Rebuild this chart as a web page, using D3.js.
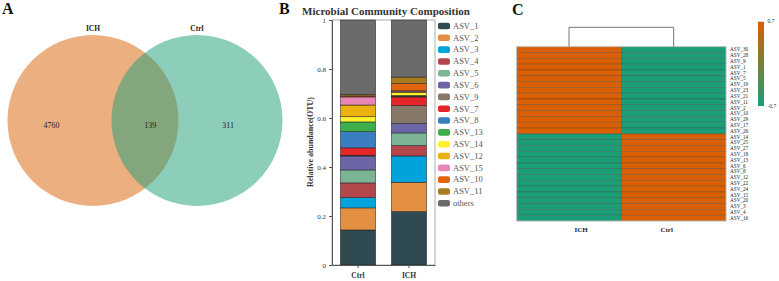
<!DOCTYPE html>
<html><head><meta charset="utf-8">
<script src="https://d3js.org/d3.v7.min.js"></script>
<style>body{margin:0;background:#fff}svg{display:block;font-family:"Liberation Serif","Times New Roman",serif}</style>
</head><body>
<svg id="fig" width="779" height="281"></svg>
<script>
// ---- data ----
const vennSets = ['ICH', 'Ctrl'];
const vennCounts = [4760, 139, 311];          // ICH only, shared, Ctrl only
const vennColors = ['#D95F02', '#1B9E77'];

const groups = ['Ctrl', 'ICH'];
const taxa = ['ASV_1','ASV_2','ASV_3','ASV_4','ASV_5','ASV_6','ASV_9','ASV_7',
              'ASV_8','ASV_13','ASV_14','ASV_12','ASV_15','ASV_10','ASV_11','others'];
const ctrlAbund = [0.143,0.090,0.042,0.060,0.053,0.057,0.003,0.030,
                   0.066,0.040,0.021,0.048,0.033,0.004,0.005,0.305];
const ichAbund  = [0.218,0.120,0.107,0.043,0.051,0.039,0.073,0.035,
                   0.003,0.003,0.012,0.004,0.003,0.029,0.027,0.233];
const taxaColors = ['#2F4A51','#E39042','#00A3DC','#B4474B','#7BB595','#6C66A6','#86796A','#E4262A',
                    '#3A7EC0','#3EAE4D','#FFF12E','#EBB10F','#EA86B5','#E2650E','#A97A1E','#6B6B6B'];
const yTicks = [0, 0.2, 0.4, 0.6, 0.8, 1];

const heatCols = ['ICH', 'Ctrl'];
const heatRows = ['ASV_30','ASV_28','ASV_9','ASV_1','ASV_7','ASV_5','ASV_19','ASV_23','ASV_21','ASV_11',
                  'ASV_2','ASV_10','ASV_29','ASV_17','ASV_26','ASV_14','ASV_25','ASV_27','ASV_18','ASV_13',
                  'ASV_6','ASV_8','ASV_12','ASV_22','ASV_24','ASV_15','ASV_20','ASV_3','ASV_4','ASV_16'];
const heatICH  = [0.7,0.7,0.7,0.7,0.7,0.7,0.7,0.7,0.7,0.7,0.7,0.7,0.7,0.7,0.7,
                  -0.7,-0.7,-0.7,-0.7,-0.7,-0.7,-0.7,-0.7,-0.7,-0.7,-0.7,-0.7,-0.7,-0.7,-0.7];
const heatCtrl = [-0.7,-0.7,-0.7,-0.7,-0.7,-0.7,-0.7,-0.7,-0.7,-0.7,-0.7,-0.7,-0.7,-0.7,-0.7,
                  0.7,0.7,0.7,0.7,0.7,0.7,0.7,0.7,0.7,0.7,0.7,0.7,0.7,0.7,0.7];
const colorTicks = [0.7, -0.7];

const svg = d3.select('#fig');
const letter = (t, x, y) => svg.append('text').attr('x', x).attr('y', y)
  .attr('font-size', 16).attr('font-weight', 'bold').attr('fill', '#111').text(t);

// ---- A: venn ----
letter('A', 2, 14);
const vx = d3.scaleLinear().domain([0, 1]).range([93, 197]);   // circle centres
const vr = 85.5, vcy = 120.5;
const gA = svg.append('g');
gA.selectAll('circle').data(vennSets).join('circle')
  .attr('cx', (d, i) => vx(i)).attr('cy', vcy).attr('r', vr)
  .attr('fill', (d, i) => vennColors[i]).attr('fill-opacity', 0.5);
gA.selectAll('text.set').data(vennSets).join('text').attr('class', 'set')
  .attr('x', (d, i) => vx(i)).attr('y', 31).attr('text-anchor', 'middle')
  .attr('font-size', 7.5).attr('font-weight', 'bold').attr('fill', '#222').text(d => d);
const countPos = [-0.4, 0.55, 1.3];
gA.selectAll('text.num').data(vennCounts).join('text').attr('class', 'num')
  .attr('x', (d, i) => vx(countPos[i])).attr('y', 128).attr('text-anchor', 'middle')
  .attr('font-size', 8).attr('fill', '#222').text(d => d);

// ---- B: stacked bars ----
letter('B', 279, 14);
svg.append('text').attr('x', 386).attr('y', 15).attr('text-anchor', 'middle')
  .attr('font-size', 11).attr('font-weight', 'bold').attr('fill', '#333')
  .text('Microbial Community Composition');
const bx = d3.scaleBand().domain(groups).range([332, 435]).paddingInner(0.31).paddingOuter(0.165);
const by = d3.scaleLinear().domain([0, 1]).range([265, 20]);
const abund = {Ctrl: ctrlAbund, ICH: ichAbund};
const rows = groups.map(g => { const o = {group: g}; taxa.forEach((t, i) => o[t] = abund[g][i]); return o; });
const stack = d3.stack().keys(taxa)(rows);
const gB = svg.append('g');
gB.append('rect').attr('x', 332).attr('y', 20).attr('width', 103).attr('height', 245)
  .attr('fill', 'none').attr('stroke', '#999').attr('stroke-width', 0.8);
gB.selectAll('g.layer').data(stack).join('g').attr('class', 'layer')
  .attr('fill', (d, i) => taxaColors[i])
  .selectAll('rect').data(d => d).join('rect')
  .attr('x', d => bx(d.data.group)).attr('width', bx.bandwidth())
  .attr('y', d => by(d[1])).attr('height', d => by(d[0]) - by(d[1]))
  .attr('stroke', '#1a1a1a').attr('stroke-width', 0.5);
const yAx = gB.append('g').attr('transform', 'translate(332,0)')
  .call(d3.axisLeft(by).tickValues(yTicks).tickFormat(d3.format('~g')).tickSize(3));
const xAx = gB.append('g').attr('transform', 'translate(0,265)')
  .call(d3.axisBottom(bx).tickSize(3).tickSizeOuter(0));
[yAx, xAx].forEach(a => { a.attr('font-family', null);
  a.selectAll('path,line').attr('stroke', '#555');
  a.selectAll('text').attr('fill', '#333'); });
yAx.selectAll('text').attr('font-size', 7);
xAx.selectAll('text').attr('font-size', 7.5).attr('font-weight', 'bold').attr('dy', '0.9em');
gB.append('text').attr('transform', 'translate(313,142) rotate(-90)').attr('text-anchor', 'middle')
  .attr('font-size', 8).attr('font-weight', 'bold').attr('fill', '#333').text('Relative abundance(OTU)');
const ly = d3.scalePoint().domain(taxa).range([26, 203.3]);
const leg = gB.selectAll('g.leg').data(taxa).join('g').attr('class', 'leg')
  .attr('transform', d => `translate(438,${ly(d)})`);
leg.append('rect').attr('y', -3.3).attr('width', 12).attr('height', 6.6).attr('rx', 2)
  .attr('fill', (d, i) => taxaColors[i]);
leg.append('text').attr('x', 15).attr('dy', '0.33em').attr('font-size', 8.5)
  .attr('fill', '#555').text(d => d);

// ---- C: heatmap ----
letter('C', 512, 15);
const hx = d3.scaleBand().domain(heatCols).range([516.7, 726]);
const hy = d3.scaleBand().domain(heatRows).range([46.7, 221]);
const hc = d3.scaleLinear().domain([-0.7, 0.7]).range(['#1B9E77', '#D95F02']);
const cells = [];
heatRows.forEach((r, i) => { cells.push({r, c: 'ICH', v: heatICH[i]}); cells.push({r, c: 'Ctrl', v: heatCtrl[i]}); });
const gC = svg.append('g');
gC.selectAll('rect.cell').data(cells).join('rect').attr('class', 'cell')
  .attr('x', d => hx(d.c)).attr('y', d => hy(d.r))
  .attr('width', hx.bandwidth()).attr('height', hy.bandwidth())
  .attr('fill', d => hc(d.v)).attr('stroke', 'rgba(50,50,50,0.45)').attr('stroke-width', 0.6);
gC.append('rect').attr('x', 516.7).attr('y', 46.7).attr('width', 209.3).attr('height', 174.3)
  .attr('fill', 'none').attr('stroke', '#ccc').attr('stroke-width', 0.8);
const c0 = hx('ICH') + hx.bandwidth() / 2, c1 = hx('Ctrl') + hx.bandwidth() / 2;
gC.append('path').attr('d', `M${c0},46.7V27.3H${c1}V46.7`)
  .attr('fill', 'none').attr('stroke', '#777').attr('stroke-width', 1);
gC.selectAll('text.row').data(heatRows).join('text').attr('class', 'row')
  .attr('x', 730).attr('y', d => hy(d) + hy.bandwidth() / 2).attr('dy', '0.35em')
  .attr('font-size', 5.2).attr('fill', '#222').text(d => d);
const colShift = [12, -7];
gC.selectAll('text.col').data(heatCols).join('text').attr('class', 'col')
  .attr('x', (d, i) => hx(d) + hx.bandwidth() / 2 + colShift[i]).attr('y', 232)
  .attr('text-anchor', 'middle').attr('font-size', 7).attr('font-weight', 'bold')
  .attr('fill', '#222').text(d => d);
// colour bar
const grad = svg.append('defs').append('linearGradient').attr('id', 'cb')
  .attr('x1', 0).attr('y1', 0).attr('x2', 0).attr('y2', 1);
grad.append('stop').attr('offset', '0%').attr('stop-color', hc(0.7));
grad.append('stop').attr('offset', '100%').attr('stop-color', hc(-0.7));
const cy = d3.scaleLinear().domain([0.7, -0.7]).range([21.7, 106]);
gC.append('rect').attr('x', 758).attr('y', cy(0.7)).attr('width', 6).attr('height', cy(-0.7) - cy(0.7))
  .attr('fill', 'url(#cb)');
gC.selectAll('text.cb').data(colorTicks).join('text').attr('class', 'cb')
  .attr('x', 767.5).attr('y', d => cy(d)).attr('dy', '0.3em')
  .attr('font-size', 5.5).attr('fill', '#333').text(d => d);
</script>
</body></html>
